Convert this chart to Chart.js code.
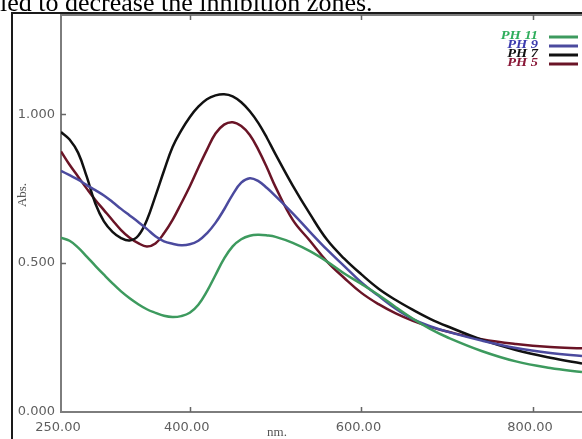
<!DOCTYPE html>
<html>
<head>
<meta charset="utf-8">
<title>Abs. vs nm</title>
<script src="https://cdn.jsdelivr.net/npm/chart.js@4.4.1/dist/chart.umd.min.js"></script>
<style>
    html, body { margin: 0; padding: 0; background: #fff; }
    #spectre { display: block; }
</style>
</head>
<body>
<canvas id="spectre" width="582" height="439"></canvas>
<script>
// longueurs d'onde (nm)
const wavelengths = [
    250, 260, 270, 280, 290, 300, 310, 320, 330, 340,
    350, 360, 370, 380, 390, 400, 410, 420, 430, 440,
    450, 460, 470, 480, 490, 500, 520, 540, 560, 580,
    600, 620, 640, 660, 680, 700, 740, 780, 820, 857
];

// absorbance pour chaque pH
const ph11 = [
    0.585, 0.575, 0.552, 0.522, 0.491, 0.461, 0.432, 0.405, 0.382, 0.362,
    0.345, 0.333, 0.323, 0.319, 0.322, 0.333, 0.36, 0.405, 0.46, 0.515,
    0.556, 0.58, 0.592, 0.595, 0.593, 0.588, 0.568, 0.54, 0.505, 0.465,
    0.43, 0.393, 0.352, 0.313, 0.279, 0.251, 0.205, 0.17, 0.148, 0.134
];
const ph9 = [
    0.81, 0.795, 0.78, 0.762, 0.745, 0.727, 0.705, 0.682, 0.66, 0.638,
    0.615, 0.59, 0.573, 0.565, 0.56, 0.563, 0.575, 0.60, 0.635, 0.68,
    0.73, 0.77, 0.785, 0.775, 0.752, 0.725, 0.667, 0.605, 0.545, 0.49,
    0.435, 0.39, 0.347, 0.312, 0.288, 0.27, 0.24, 0.215, 0.198, 0.188
];
const ph7 = [
    0.94, 0.915, 0.87, 0.79, 0.7, 0.64, 0.605, 0.584, 0.576, 0.592,
    0.644, 0.725, 0.81, 0.89, 0.945, 0.99, 1.025, 1.05, 1.063, 1.067,
    1.06, 1.04, 1.01, 0.97, 0.92, 0.865, 0.76, 0.665, 0.578, 0.515,
    0.462, 0.414, 0.376, 0.343, 0.313, 0.288, 0.243, 0.208, 0.182, 0.163
];
const ph5 = [
    0.875, 0.83, 0.79, 0.75, 0.712, 0.678, 0.644, 0.611, 0.585, 0.567,
    0.556, 0.566, 0.60, 0.645, 0.70, 0.757, 0.82, 0.88, 0.935, 0.965,
    0.973, 0.96, 0.93, 0.88, 0.82, 0.755, 0.645, 0.575, 0.505, 0.45,
    0.4, 0.362, 0.331, 0.306, 0.286, 0.27, 0.244, 0.228, 0.218, 0.214
];

// graduations
const xTicks = [250, 400, 600, 800];
const yTicks = [0, 0.5, 1.0];

const series = [
    { label: 'PH 11', values: ph11, color: '#3d9a5e', text: '#2fae5c' },
    { label: 'PH 9', values: ph9, color: '#4b4a9e', text: '#3c3cae' },
    { label: 'PH 7', values: ph7, color: '#111111', text: '#111111' },
    { label: 'PH 5', values: ph5, color: '#6a1426', text: '#8a1838' }
];

const AXE = '#7d7d7d';

// cadre, petites graduations internes, légende et textes
const decor = {
    id: 'decor',
    afterDraw(chart) {
        const ctx = chart.ctx;
        const a = chart.chartArea;
        const sx = chart.scales.x;
        const sy = chart.scales.y;
        ctx.save();

        // ligne du haut du graphe
        ctx.strokeStyle = AXE;
        ctx.lineWidth = 2;
        ctx.beginPath();
        ctx.moveTo(a.left, a.top);
        ctx.lineTo(a.right, a.top);
        ctx.stroke();

        // graduations vers l'intérieur
        ctx.lineWidth = 1.5;
        ctx.strokeStyle = '#666';
        ctx.beginPath();
        xTicks.slice(1).forEach(v => {
            const px = Math.round(sx.getPixelForValue(v)) + 0.5;
            ctx.moveTo(px, a.bottom);
            ctx.lineTo(px, a.bottom - 5);
            ctx.moveTo(px, a.top);
            ctx.lineTo(px, a.top + 5);
        });
        yTicks.slice(1).forEach(v => {
            const py = Math.round(sy.getPixelForValue(v)) + 0.5;
            ctx.moveTo(a.left, py);
            ctx.lineTo(a.left + 5, py);
        });
        ctx.stroke();

        // cadre extérieur
        ctx.strokeStyle = '#1a1a1a';
        ctx.lineWidth = 2;
        ctx.beginPath();
        ctx.moveTo(12, 439);
        ctx.lineTo(12, 13);
        ctx.lineTo(582, 13);
        ctx.stroke();

        // titres des axes
        ctx.fillStyle = '#555';
        ctx.font = '13px "Liberation Serif"';
        ctx.textAlign = 'center';
        ctx.textBaseline = 'middle';
        ctx.fillText('nm.', 277, 433);
        ctx.save();
        ctx.translate(23, 195);
        ctx.rotate(-Math.PI / 2);
        ctx.fillText('Abs.', 0, 0);
        ctx.restore();

        // légende (texte un peu élargi)
        ctx.font = 'italic bold 12px "Liberation Serif"';
        ctx.textAlign = 'right';
        ctx.textBaseline = 'middle';
        series.forEach((s, i) => {
            const y = 36 + i * 9;
            ctx.save();
            ctx.translate(538, y);
            ctx.scale(1.2, 1);
            ctx.fillStyle = s.text;
            ctx.fillText(s.label, 0, 0);
            ctx.restore();
            ctx.strokeStyle = s.color;
            ctx.lineWidth = 3;
            ctx.beginPath();
            ctx.moveTo(549, y + 1);
            ctx.lineTo(578, y + 1);
            ctx.stroke();
        });

        // phrase du texte au-dessus
        ctx.fillStyle = '#000';
        ctx.font = '26px "Liberation Serif"';
        ctx.textAlign = 'left';
        ctx.textBaseline = 'alphabetic';
        ctx.fillText('ied to decrease the inhibition zones.', 0, 11);

        ctx.restore();
    }
};

const ctx = document.getElementById('spectre').getContext('2d');

new Chart(ctx, {
    type: 'line',
    data: {
        datasets: series.map(s => ({
            label: s.label,
            data: wavelengths.map((w, i) => ({ x: w, y: s.values[i] })),
            borderColor: s.color,
            borderWidth: 2.5,
            pointRadius: 0,
            fill: false,
            tension: 0.4
        }))
    },
    options: {
        responsive: false,
        animation: false,
        layout: { padding: { top: 15, left: 0, right: 0, bottom: 0 } },
        plugins: {
            legend: { display: false },
            tooltip: { enabled: false }
        },
        scales: {
            x: {
                type: 'linear',
                min: 250,
                max: 857,
                afterBuildTicks: scale => { scale.ticks = xTicks.map(v => ({ value: v })); },
                afterFit: scale => { scale.height = 27; },
                grid: { display: false, drawTicks: false },
                border: { display: true, color: AXE, width: 2 },
                ticks: {
                    padding: 8,
                    labelOffset: -3,
                    color: '#5e5e5e',
                    font: { family: 'DejaVu Sans', size: 13 },
                    maxRotation: 0,
                    callback: v => v.toFixed(2)
                }
            },
            y: {
                min: 0,
                max: 1.333,
                afterBuildTicks: scale => { scale.ticks = yTicks.map(v => ({ value: v })); },
                afterFit: scale => { scale.width = 61; },
                grid: { display: false, drawTicks: false },
                border: { display: true, color: AXE, width: 2 },
                ticks: {
                    padding: 6,
                    color: '#5e5e5e',
                    font: { family: 'DejaVu Sans', size: 13 },
                    callback: v => v.toFixed(3)
                }
            }
        }
    },
    plugins: [decor]
});
</script>
</body>
</html>
